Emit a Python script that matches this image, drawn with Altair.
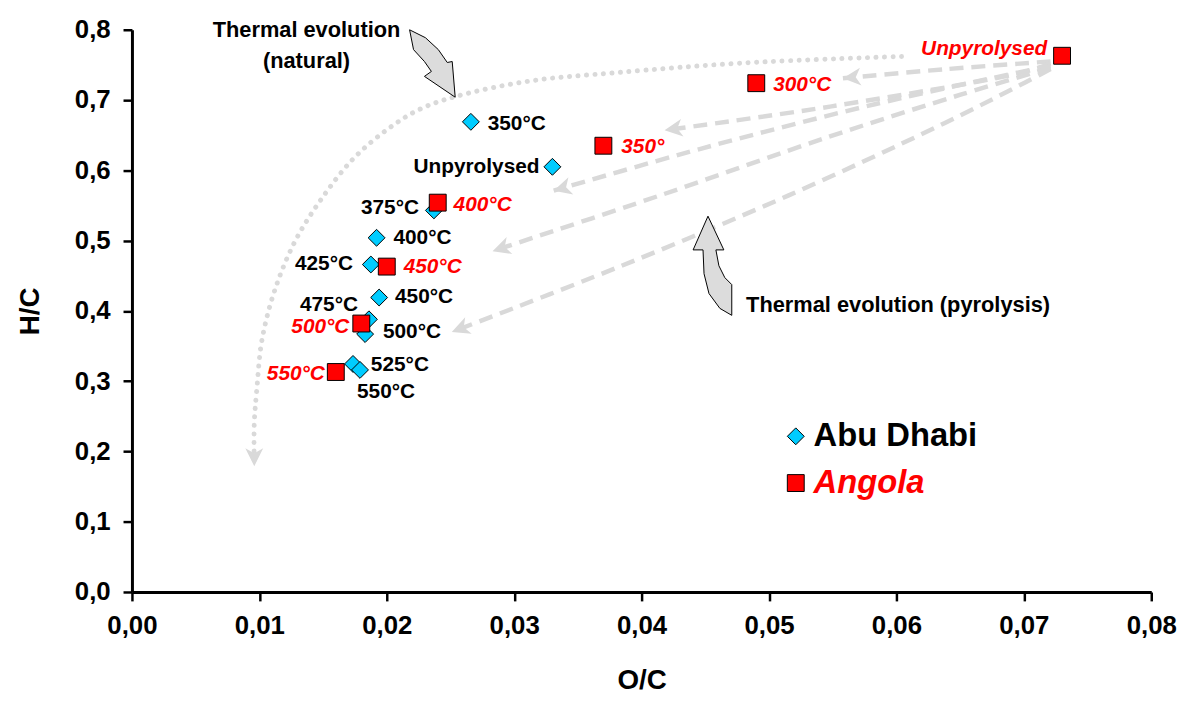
import math
import altair as alt
import pandas as pd

FONT = "Liberation Sans"
W, H = 1028, 567
XMAX, YMAX = 0.08, 0.8
PX_X = W / XMAX   # pixels per O/C unit
PX_Y = H / YMAX   # pixels per H/C unit

# ---------------- data ----------------
abu_names = ["Unpyrolysed", "350°C", "375°C", "400°C", "425°C", "450°C", "475°C", "500°C", "525°C", "550°C"]
abu_oc = [0.0330, 0.0266, 0.0237, 0.0192, 0.01875, 0.0194, 0.0186, 0.0183, 0.01735, 0.0179]
abu_hc = [0.605, 0.669, 0.543, 0.504, 0.466, 0.419, 0.388, 0.367, 0.3245, 0.316]

ang_names = ["Unpyrolysed", "300°C", "350°", "400°C", "450°C", "500°C", "550°C"]
ang_oc = [0.073, 0.049, 0.037, 0.024, 0.020, 0.018, 0.016]
ang_hc = [0.763, 0.724, 0.635, 0.554, 0.463, 0.382, 0.313]

# label placement (align, dx px, dy px)
abu_place = [("right", -13, 0), ("left", 17, 2), ("right", -15, -2), ("left", 17, 0), ("right", -18, 0),
             ("left", 16, 0), ("right", -11, -14), ("left", 18, -2), ("left", 18, 1), ("left", -3, 22)]
ang_place = [("right", -15, -7), ("left", 17, 2), ("left", 18, 1), ("left", 16, 2), ("left", 17, 0),
             ("right", -12, 4), ("right", -11, 2)]

# pyrolysis paths (dashed), from Angola unpyrolysed toward lower left
pyro_oc = [
    [0.0721, 0.0639, 0.0558],
    [0.0721, 0.0698, 0.0549, 0.0418],
    [0.0721, 0.0583, 0.0447, 0.0331],
    [0.0721, 0.0651, 0.0549, 0.0414, 0.0283],
    [0.0721, 0.0701, 0.0633, 0.0515, 0.0380, 0.0251],
]
pyro_hc = [
    [0.755, 0.744, 0.731],
    [0.752, 0.739, 0.691, 0.657],
    [0.749, 0.694, 0.631, 0.571],
    [0.746, 0.708, 0.649, 0.564, 0.485],
    [0.744, 0.725, 0.663, 0.564, 0.461, 0.370],
]

# natural evolution path (dotted)
nat_oc = [0.0604, 0.0482, 0.0380, 0.0312, 0.0254, 0.0226, 0.0201, 0.0174, 0.0149, 0.0128, 0.0112, 0.0102, 0.0098, 0.0096, 0.0096]
nat_hc = [0.762, 0.753, 0.739, 0.727, 0.705, 0.687, 0.659, 0.617, 0.560, 0.499, 0.429, 0.358, 0.288, 0.240, 0.179]

# annotations
ann_text = ["Thermal evolution", "(natural)", "Thermal evolution (pyrolysis)"]
ann_oc = [0.0137, 0.0137, 0.0482]
ann_hc = [0.800, 0.756, 0.408]
ann_align = ["center", "center", "left"]

legend_names = ["Abu Dhabi", "Angola"]
legend_oc = [0.0521, 0.0521]
legend_hc = [0.2215, 0.155]

# block arrow shapes (unit paths) and their centres
nat_arrow_path = ("M -0.657 -0.971 L -0.2 -0.743 L 0.171 -0.4 L 0.429 -0.029 L 0.571 -0.057 "
                  "L 0.657 0.971 L -0.229 0.371 L -0.029 0.229 L -0.229 -0.057 L -0.543 -0.4 Z")
pyro_arrow_path = ("M -0.09 -1 L 0.23 -0.32 L 0.07 -0.32 L 0.13 0 L 0.25 0.24 L 0.39 0.38 L 0.39 1 "
                   "L 0.15 0.86 L -0.07 0.56 L -0.17 0.16 L -0.19 -0.32 L -0.39 -0.32 Z")
nat_arrow_pos = (0.02358, 0.752)
pyro_arrow_pos = (0.04556, 0.4642)

ARROWHEAD = "M 0 0 L -1 -0.5 L -0.72 0 L -1 0.5 Z"
LINE_GREY = "#d9d9d9"

# ---------------- tables ----------------
def label_df(names, oc, hc, place):
    rows = []
    for n, x, y, (al, dx, dy) in zip(names, oc, hc, place):
        rows.append({"name": n, "lx": x + dx / PX_X, "ly": y - dy / PX_Y, "align": al})
    return pd.DataFrame(rows)

abu_df = pd.DataFrame({"oc": abu_oc, "hc": abu_hc, "name": abu_names})
ang_df = pd.DataFrame({"oc": ang_oc, "hc": ang_hc, "name": ang_names})
abu_lab = label_df(abu_names, abu_oc, abu_hc, abu_place)
ang_lab = label_df(ang_names, ang_oc, ang_hc, ang_place)

pyro_rows, heads = [], []
for i, (xs_, ys_) in enumerate(zip(pyro_oc, pyro_hc)):
    for j, (x, y) in enumerate(zip(xs_, ys_)):
        pyro_rows.append({"curve": i, "k": j, "oc": x, "hc": y})
def head(xs_, ys_):
    dxp = (xs_[-1] - xs_[-2]) * PX_X
    dyp = -(ys_[-1] - ys_[-2]) * PX_Y
    return {"oc": xs_[-1], "hc": ys_[-1], "ang": math.degrees(math.atan2(dyp, dxp)) % 360}
for xs_, ys_ in zip(pyro_oc, pyro_hc):
    heads.append(head(xs_, ys_))
heads.append(head(nat_oc, nat_hc))
pyro_df = pd.DataFrame(pyro_rows)
heads_df = pd.DataFrame(heads)
nat_df = pd.DataFrame({"k": list(range(len(nat_oc))), "oc": nat_oc, "hc": nat_hc})
ann_df = pd.DataFrame({"t": ann_text, "oc": ann_oc, "hc": ann_hc, "align": ann_align})
leg_df = pd.DataFrame({"name": legend_names, "oc": legend_oc, "hc": legend_hc})

# ---------------- encodings ----------------
xs = alt.Scale(domain=[0, XMAX], nice=False, zero=True)
ys = alt.Scale(domain=[0, YMAX], nice=False, zero=True)

X = alt.X("oc:Q", scale=xs, axis=alt.Axis(
    title="O/C", values=[i / 100 for i in range(9)],
    labelExpr="replace(format(datum.value, '.2f'), '.', ',')", labelFlush=False, labelOverlap=False,
    grid=False, domainColor="black", domainWidth=3, tickColor="black", tickWidth=2.5, tickSize=9,
    labelFont=FONT, labelFontWeight="bold", labelFontSize=26, labelColor="black", labelPadding=12,
    titleFont=FONT, titleFontWeight="bold", titleFontSize=28, titleColor="black", titlePadding=28))
Y = alt.Y("hc:Q", scale=ys, axis=alt.Axis(
    title="H/C", values=[i / 10 for i in range(9)],
    labelExpr="replace(format(datum.value, '.1f'), '.', ',')", labelFlush=False, labelOverlap=False,
    grid=False, domainColor="black", domainWidth=3, tickColor="black", tickWidth=2.5, tickSize=9,
    labelFont=FONT, labelFontWeight="bold", labelFontSize=26, labelColor="black", labelPadding=13,
    titleFont=FONT, titleFontWeight="bold", titleFontSize=28, titleColor="black", titlePadding=30))

def XP(f="oc"):
    return alt.X(f + ":Q", scale=xs)
def YP(f="hc"):
    return alt.Y(f + ":Q", scale=ys)

nat_line = alt.Chart(nat_df).mark_line(
    color=LINE_GREY, strokeWidth=5, strokeDash=[0.1, 8.5], strokeCap="round", interpolate="catmull-rom"
).encode(x=X, y=Y, order="k:Q")

pyro_lines = alt.Chart(pyro_df).mark_line(
    color=LINE_GREY, strokeWidth=4.5, strokeDash=[14, 8], interpolate="catmull-rom"
).encode(x=XP(), y=YP(), detail="curve:N", order="k:Q")

arrowheads = alt.Chart(heads_df).mark_point(
    shape=ARROWHEAD, filled=True, fill=LINE_GREY, strokeWidth=0, size=1300, opacity=1
).encode(x=XP(), y=YP(), angle=alt.Angle("ang:Q", scale=None))

nat_block = alt.Chart(pd.DataFrame({"oc": [nat_arrow_pos[0]], "hc": [nat_arrow_pos[1]]})).mark_point(
    shape=nat_arrow_path, filled=True, fill="#dcdcdc", stroke="black", strokeWidth=1, size=4900, opacity=1
).encode(x=XP(), y=YP())
pyro_block = alt.Chart(pd.DataFrame({"oc": [pyro_arrow_pos[0]], "hc": [pyro_arrow_pos[1]]})).mark_point(
    shape=pyro_arrow_path, filled=True, fill="#dcdcdc", stroke="black", strokeWidth=1, size=10000, opacity=1
).encode(x=XP(), y=YP())

abu_pts = alt.Chart(abu_df).mark_point(
    shape="diamond", filled=True, fill="#00CCFF", stroke="black", strokeWidth=1, size=290, opacity=1
).encode(x=XP(), y=YP())
ang_pts = alt.Chart(ang_df).mark_point(
    shape="square", filled=True, fill="#FF0000", stroke="black", strokeWidth=1, size=290, opacity=1
).encode(x=XP(), y=YP())

def labels(df, align, color, italic):
    return alt.Chart(df).transform_filter(alt.datum.align == align).mark_text(
        align=align, baseline="middle", font=FONT, fontWeight="bold", fontSize=21,
        fontStyle="italic" if italic else "normal", color=color
    ).encode(x=XP("lx"), y=YP("ly"), text="name:N")

abu_text = labels(abu_lab, "left", "black", False) + labels(abu_lab, "right", "black", False)
ang_text = labels(ang_lab, "left", "#FF0000", True) + labels(ang_lab, "right", "#FF0000", True)

ann_left = alt.Chart(ann_df).transform_filter(alt.datum.align == "left").mark_text(
    align="left", baseline="middle", font=FONT, fontWeight="bold", fontSize=22, color="black"
).encode(x=XP(), y=YP(), text="t:N")
ann_center = alt.Chart(ann_df).transform_filter(alt.datum.align == "center").mark_text(
    align="center", baseline="middle", font=FONT, fontWeight="bold", fontSize=22, color="black"
).encode(x=XP(), y=YP(), text="t:N")

leg_d = alt.Chart(leg_df).transform_filter(alt.datum.name == "Abu Dhabi").mark_point(
    shape="diamond", filled=True, fill="#00CCFF", stroke="black", strokeWidth=1, size=290, opacity=1
).encode(x=XP(), y=YP())
leg_s = alt.Chart(leg_df).transform_filter(alt.datum.name == "Angola").mark_point(
    shape="square", filled=True, fill="#FF0000", stroke="black", strokeWidth=1, size=290, opacity=1
).encode(x=XP(), y=YP())
leg_t1 = alt.Chart(leg_df).transform_filter(alt.datum.name == "Abu Dhabi").mark_text(
    align="left", baseline="middle", dx=18, font=FONT, fontWeight="bold", fontSize=33, color="black"
).encode(x=XP(), y=YP(), text="name:N")
leg_t2 = alt.Chart(leg_df).transform_filter(alt.datum.name == "Angola").mark_text(
    align="left", baseline="middle", dx=18, font=FONT, fontWeight="bold", fontStyle="italic",
    fontSize=33, color="#FF0000"
).encode(x=XP(), y=YP(), text="name:N")

chart = alt.layer(
    nat_line, pyro_lines, arrowheads, nat_block, pyro_block,
    abu_pts, ang_pts, abu_text, ang_text, ann_left, ann_center,
    leg_d, leg_s, leg_t1, leg_t2
).properties(
    width=W, height=H, background="white",
    padding={"left": 8, "top": 6, "right": 5, "bottom": 5}
).configure_view(stroke=None)

chart.save("out.html", embed_options={"renderer": "svg", "actions": False})
